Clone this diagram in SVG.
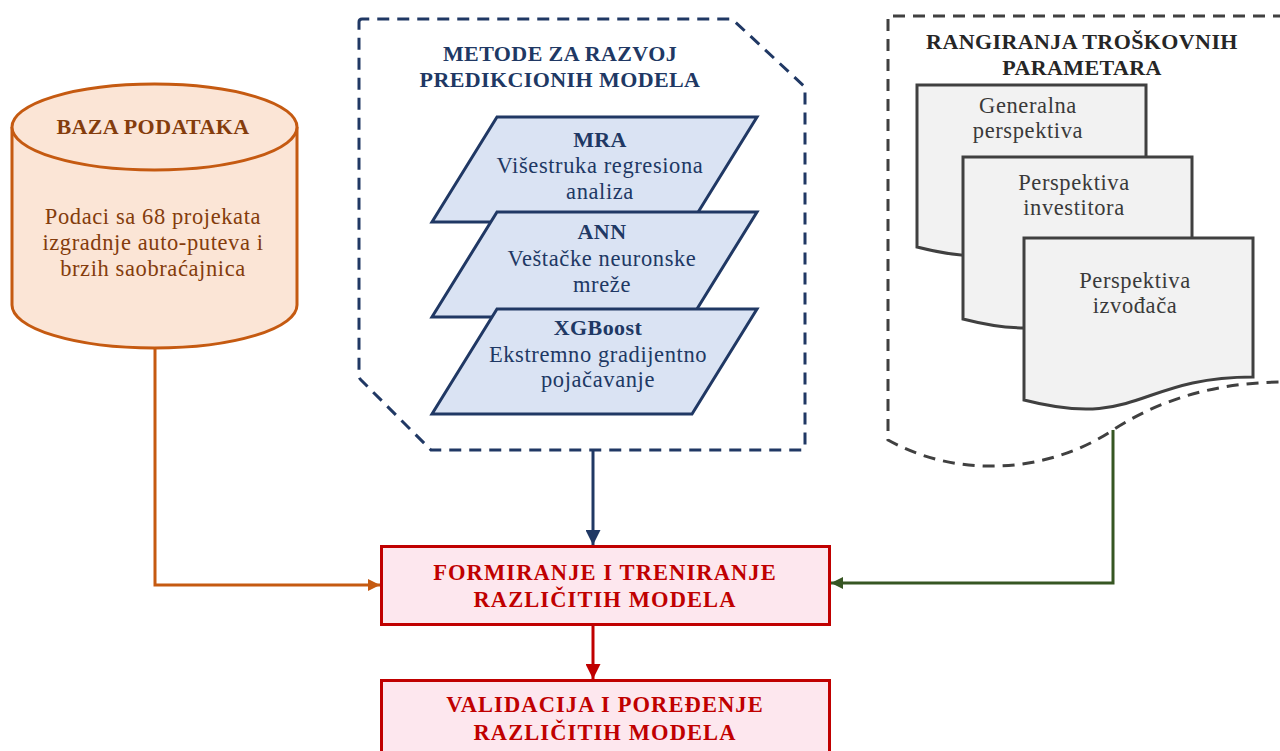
<svg xmlns="http://www.w3.org/2000/svg" width="1280" height="751" viewBox="0 0 1280 751">
  <defs>
    <style>
      text { font-family: "Liberation Serif", "DejaVu Serif", serif; text-anchor: middle; }
      .b { font-size: 22px; font-weight: bold; letter-spacing: 0.4px; }
      .r { font-size: 22.5px; letter-spacing: 0.6px; }
      .db { fill: #843C0C; }
      .mt { fill: #203864; }
      .rt-title { fill: #262626; }
      .rt { fill: #3A3A3A; }
      .pt { fill: #C00000; font-size: 22.5px; letter-spacing: 1.1px; }
      .method { fill: #DAE3F3; stroke: #203864; stroke-width: 3; stroke-linejoin: miter; }
      .doc { fill: #F2F2F2; stroke: #404040; stroke-width: 3; }
      .proc { fill: #FDE7EE; stroke: #C00000; stroke-width: 3; }
      .conn { fill: none; stroke-width: 3; }
      .frame { fill: none; stroke-width: 3; stroke-dasharray: 12 8; }
    </style>
    <marker id="arr-orange" viewBox="0 0 10 10" refX="10" refY="5" markerWidth="4" markerHeight="4" orient="auto" markerUnits="strokeWidth">
      <path d="M0,0 L10,5 L0,10 Z" fill="#C55A11"/>
    </marker>
    <marker id="arr-navy" viewBox="0 0 10 10" refX="10" refY="5" markerWidth="5" markerHeight="5" orient="auto" markerUnits="strokeWidth">
      <path d="M0,0 L10,5 L0,10 Z" fill="#203864"/>
    </marker>
    <marker id="arr-green" viewBox="0 0 10 10" refX="10" refY="5" markerWidth="4" markerHeight="4" orient="auto" markerUnits="strokeWidth">
      <path d="M0,0 L10,5 L0,10 Z" fill="#375623"/>
    </marker>
    <marker id="arr-red" viewBox="0 0 10 10" refX="10" refY="5" markerWidth="5" markerHeight="5" orient="auto" markerUnits="strokeWidth">
      <path d="M0,0 L10,5 L0,10 Z" fill="#C00000"/>
    </marker>
  </defs>

  <rect width="1280" height="751" fill="#FFFFFF"/>

  <!-- Connectors -->
  <g id="connectors">
    <path class="conn" d="M155,348 V585 H380" stroke="#C55A11" marker-end="url(#arr-orange)"/>
    <path class="conn" d="M593,450 V545" stroke="#203864" stroke-width="2.5" marker-end="url(#arr-navy)"/>
    <path class="conn" d="M1113,430 V583 H831" stroke="#375623" marker-end="url(#arr-green)"/>
    <path class="conn" d="M593,625 V679" stroke="#C00000" stroke-width="2.5" marker-end="url(#arr-red)"/>
  </g>

  <!-- Database cylinder -->
  <g id="baza-podataka">
    <path d="M12,127 V305 A142.5,43 0 0 0 297,305 V127" fill="#FBE5D6" stroke="#C55A11" stroke-width="3"/>
    <ellipse cx="154.5" cy="127" rx="142.5" ry="43" fill="#FBE5D6" stroke="#C55A11" stroke-width="3"/>
    <text class="b db" x="153" y="134" letter-spacing="0.8">BAZA PODATAKA</text>
    <text class="r db" x="153" y="224">Podaci sa 68 projekata</text>
    <text class="r db" x="153" y="250">izgradnje auto-puteva i</text>
    <text class="r db" x="153" y="276">brzih saobraćajnica</text>
  </g>

  <!-- Prediction methods container -->
  <g id="metode">
    <path class="frame" d="M359,22 Q359,19 362,19 H732 L805,87 V447 Q805,450 802,450 H431 L361,380 Q359,378 359,375 Z" stroke="#203864"/>
    <text class="b mt" x="560" y="61">METODE ZA RAZVOJ</text>
    <text class="b mt" x="560" y="87">PREDIKCIONIH MODELA</text>
  </g>

  <g id="mra">
    <polygon class="method" points="497,117 757,117 692,222 432,222"/>
    <text class="b mt" x="600" y="147">MRA</text>
    <text class="r mt" x="600" y="173">Višestruka regresiona</text>
    <text class="r mt" x="600" y="199">analiza</text>
  </g>
  <g id="ann">
    <polygon class="method" points="497,212 757,212 692,317 432,317"/>
    <text class="b mt" x="602" y="239">ANN</text>
    <text class="r mt" x="602" y="266">Veštačke neuronske</text>
    <text class="r mt" x="602" y="292">mreže</text>
  </g>
  <g id="xgboost">
    <polygon class="method" points="497,309 757,309 692,414 432,414"/>
    <text class="b mt" x="598" y="335">XGBoost</text>
    <text class="r mt" x="598" y="362">Ekstremno gradijentno</text>
    <text class="r mt" x="598" y="387">pojačavanje</text>
  </g>

  <!-- Cost parameter ranking container -->
  <g id="rangiranja">
    <path class="frame" d="M1285,16 H888 V440 C960,480 1050,472 1113,430 C1170,393 1230,382 1285,382" stroke="#404040"/>
    <text class="b rt-title" x="1082" y="49">RANGIRANJA TROŠKOVNIH</text>
    <text class="b rt-title" x="1082" y="75">PARAMETARA</text>
  </g>

  <g id="generalna">
    <path class="doc" d="M917,85 H1146 V224 C1031.5,224 1031.5,276.6 917,247 Z"/>
    <text class="r rt" x="1028" y="113">Generalna</text>
    <text class="r rt" x="1028" y="138">perspektiva</text>
  </g>
  <g id="investitor">
    <path class="doc" d="M963,157 H1192 V296 C1077.5,296 1077.5,348.6 963,319 Z"/>
    <text class="r rt" x="1074" y="190">Perspektiva</text>
    <text class="r rt" x="1074" y="215">investitora</text>
  </g>
  <g id="izvodjac">
    <path class="doc" d="M1024,238 H1253 V377 C1138.5,377 1138.5,429.6 1024,400 Z"/>
    <text class="r rt" x="1135" y="288">Perspektiva</text>
    <text class="r rt" x="1135" y="313">izvođača</text>
  </g>

  <!-- Process boxes -->
  <g id="formiranje">
    <rect class="proc" x="381.5" y="546.5" width="448" height="78"/>
    <text class="b pt" x="605" y="580">FORMIRANJE I TRENIRANJE</text>
    <text class="b pt" x="605" y="607">RAZLIČITIH MODELA</text>
  </g>
  <g id="validacija">
    <rect class="proc" x="381.5" y="680.5" width="448" height="80"/>
    <text class="b pt" x="605" y="712">VALIDACIJA I POREĐENJE</text>
    <text class="b pt" x="605" y="740">RAZLIČITIH MODELA</text>
  </g>
</svg>
